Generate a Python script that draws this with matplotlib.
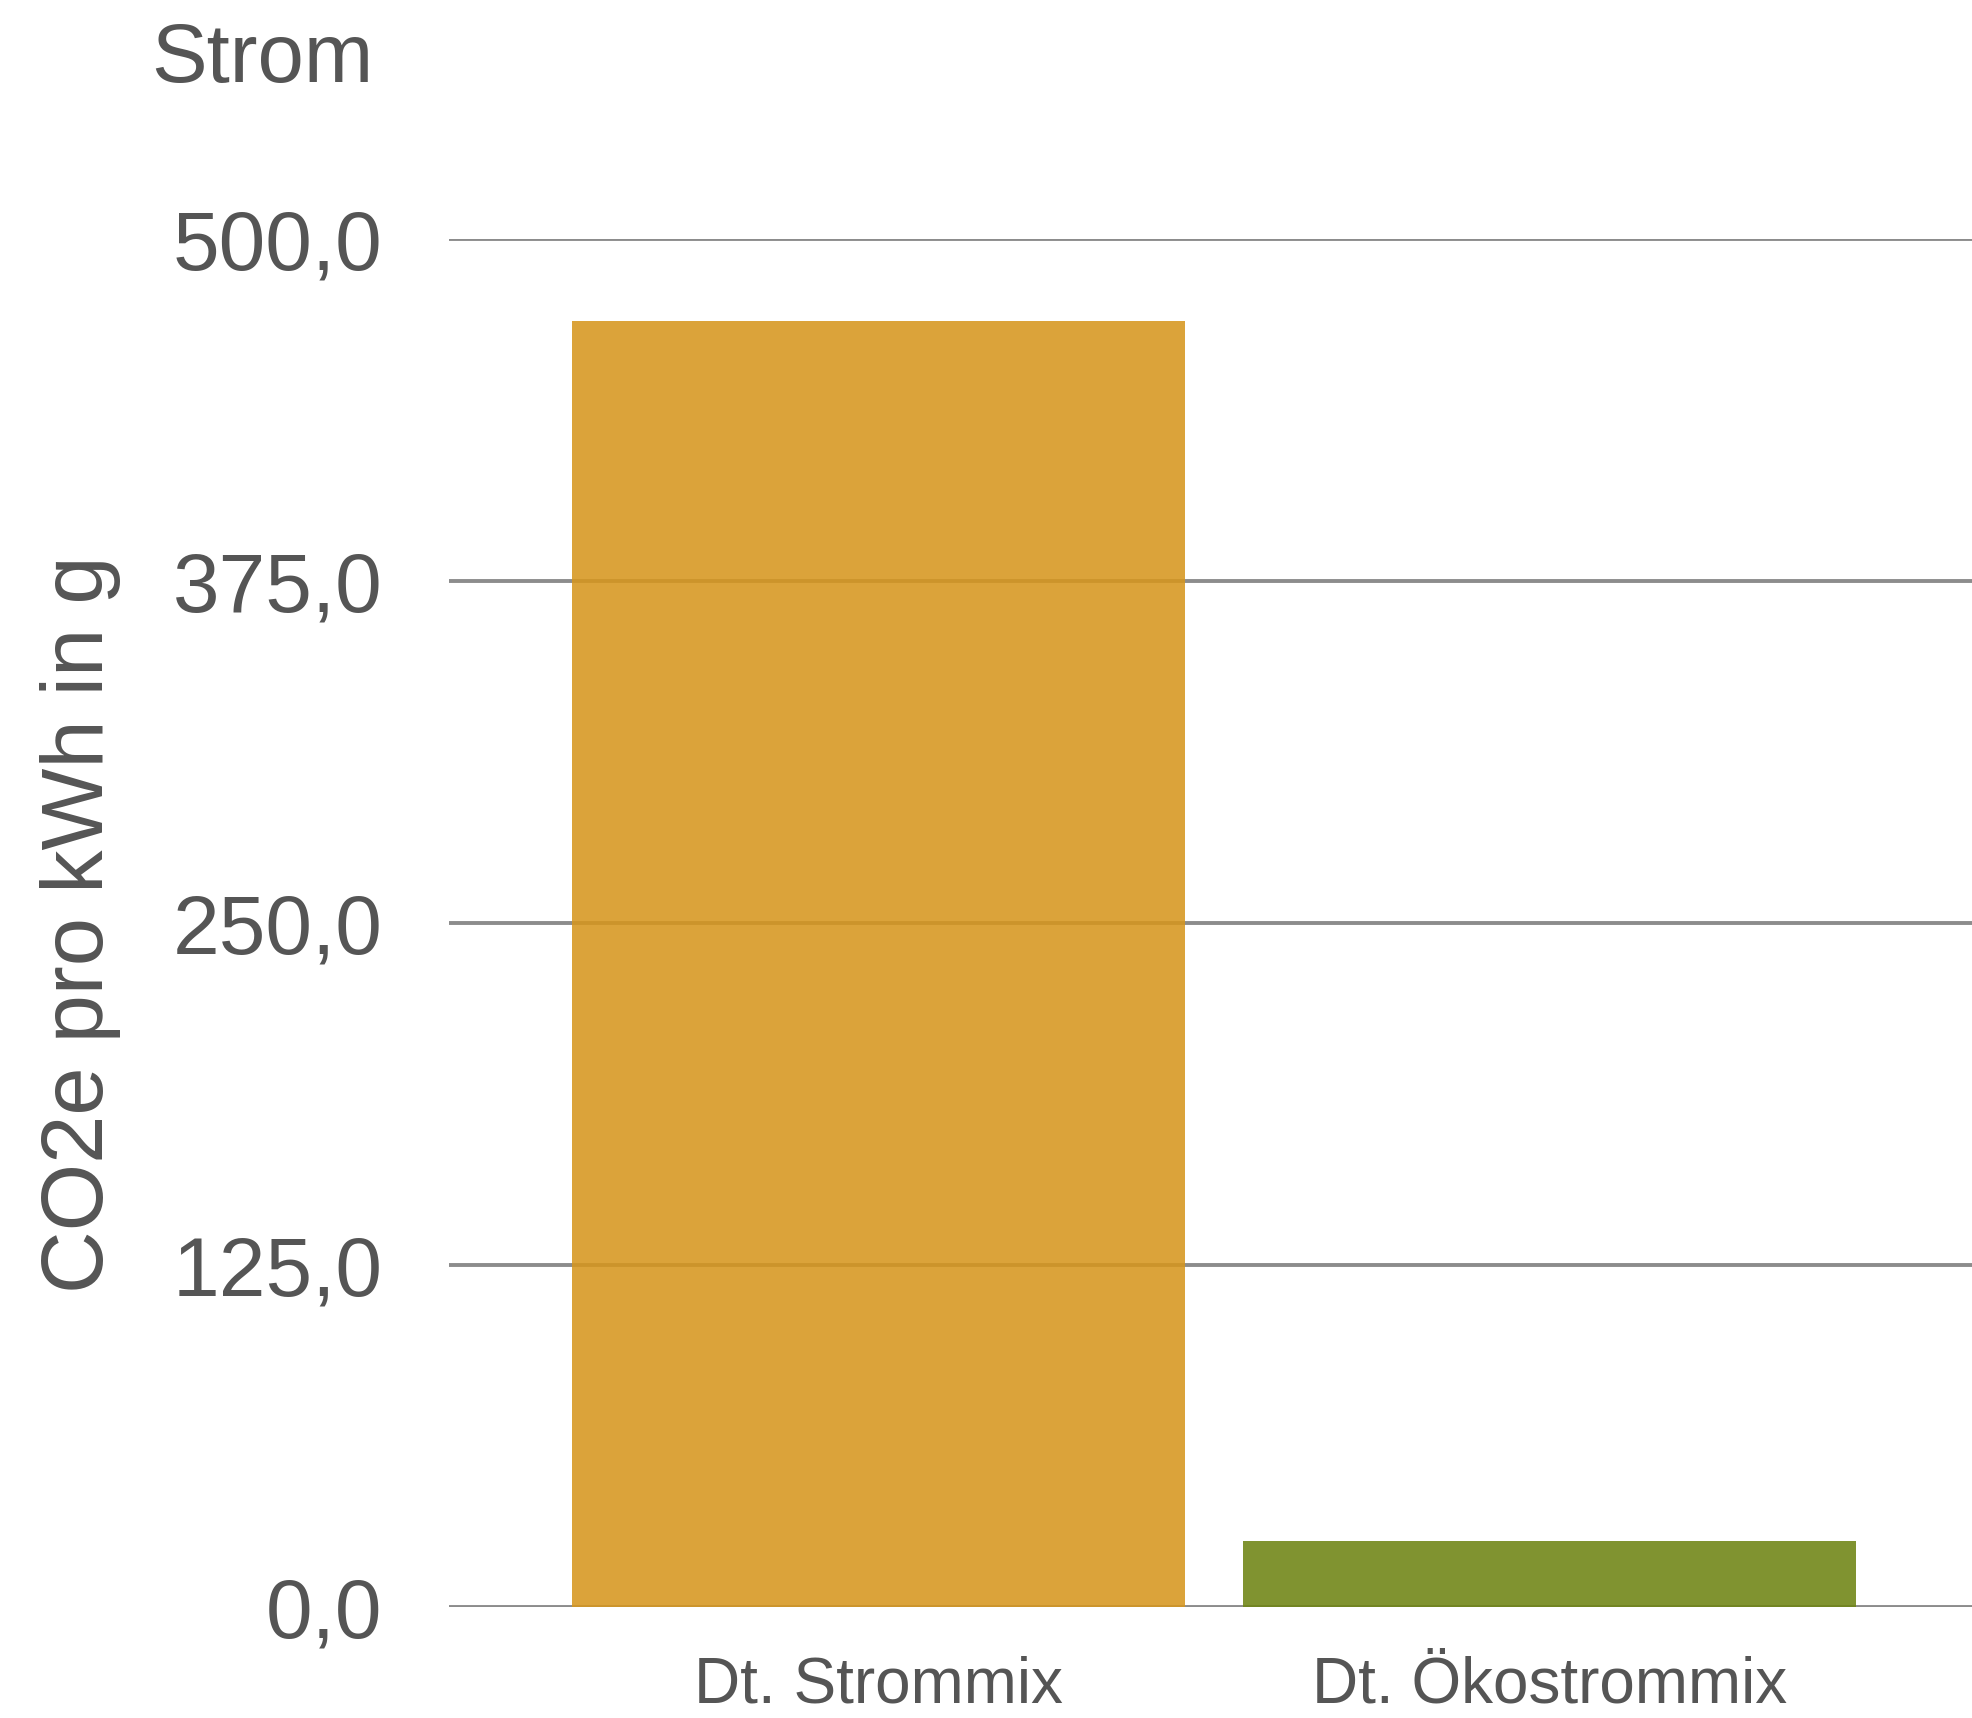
import matplotlib
matplotlib.use("Agg")
import matplotlib.pyplot as plt

plt.rcParams['font.family'] = ['Liberation Sans', 'DejaVu Sans']

categories = ["Dt. Strommix", "Dt. Ökostrommix"]
values = [470.0, 24.0]
bar_colors = ["#d6961e", "#6e8413"]
yticks = [0, 125, 250, 375, 500]
ytick_labels = ["0,0", "125,0", "250,0", "375,0", "500,0"]
title = "Strom"
ylabel = "CO2e pro kWh in g"

text_color = "#555555"
W, H = 1972, 1718
fig = plt.figure(figsize=(W / 100, H / 100), dpi=100)
ax = fig.add_axes([449 / W, 1 - 1607 / H, 1 - 449 / W, (1607 - 239) / H])

for y in yticks:
    ax.axhline(y, color="#8c8c8c", lw=2.8, zorder=1)

x = list(range(len(categories)))
ax.bar(x, values, width=0.914, color=bar_colors, alpha=0.88, zorder=2)

ax.set_xlim(-0.64, 1.63)
ax.set_ylim(0, 500)
ax.set_yticks(yticks)
ax.set_yticklabels(ytick_labels, fontsize=60.5, color=text_color)
ax.set_xticks(x)
ax.set_xticklabels(categories, fontsize=46, color=text_color)
ax.tick_params(axis='y', length=0, pad=48)
ax.tick_params(axis='x', length=0, pad=35)
for s in ax.spines.values():
    s.set_visible(False)

fig.text(151 / W, 1 - 82 / H, title, fontsize=60, color=text_color,
         ha='left', va='baseline')
fig.text(40 / W, 1 - 924 / H, ylabel, fontsize=62.5, color=text_color,
         ha='left', va='center', rotation=90)

fig.savefig("out.png", dpi=100, facecolor="white")
